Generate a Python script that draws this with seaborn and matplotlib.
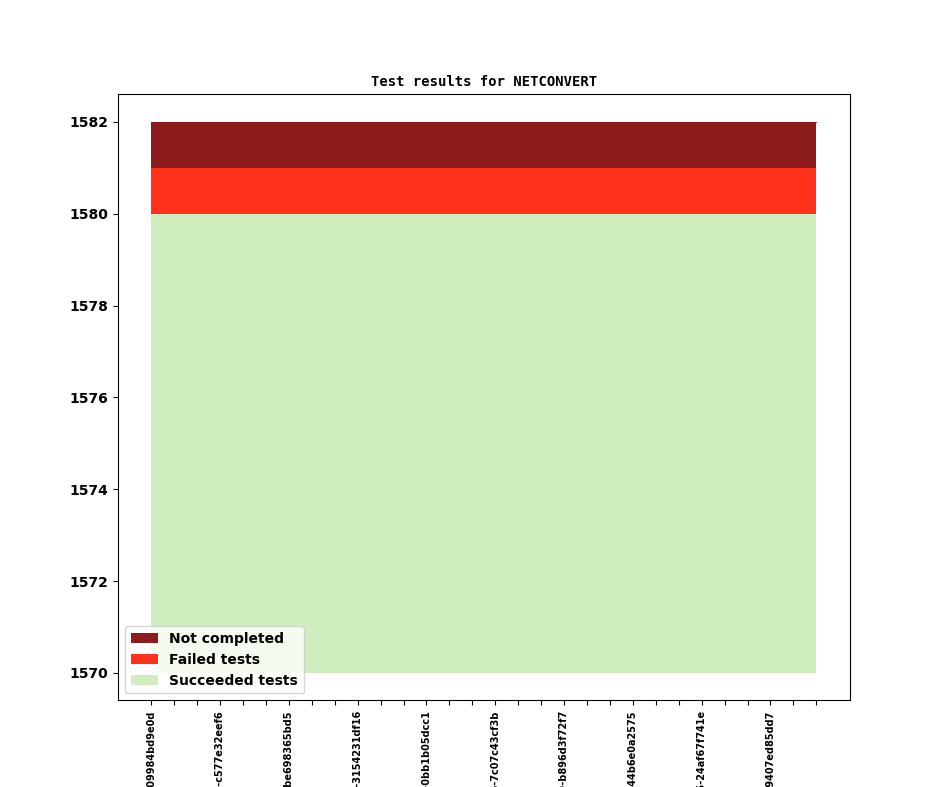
import matplotlib
matplotlib.use("Agg")
import matplotlib.pyplot as plt
import seaborn as sns
import numpy as np
import pandas as pd

# ---- data ----
n_builds = 30
succeeded = [1580] * n_builds
failed = [1] * n_builds
not_completed = [1] * n_builds
baseline = 1570
labelled_builds = [
    "v1_20_0+0101-09984bd9e0d",
    "v1_20_0+0104-c577e32eef6",
    "v1_20_0+0107-be698365bd5",
    "v1_20_0+0110-3154231df16",
    "v1_20_0+0113-0bb1b05dcc1",
    "v1_20_0+0116-7c07c43cf3b",
    "v1_20_0+0119-b896d3f72f7",
    "v1_20_0+0122-44b6e0a2575",
    "v1_20_0+0125-24af67f741e",
    "v1_20_0+0128-9407ed85dd7",
]
label_step = 3

colors = {"Not completed": "#8b1b1d", "Failed tests": "#ff311a", "Succeeded tests": "#cfedbe"}

df = pd.DataFrame({
    "build": np.arange(n_builds),
    "succeeded": succeeded,
    "failed": failed,
    "not_completed": not_completed,
})
df["base"] = baseline
df["top_succ"] = df["succeeded"]
df["top_fail"] = df["top_succ"] + df["failed"]
df["top_nc"] = df["top_fail"] + df["not_completed"]

plt.rcParams["font.weight"] = "bold"
fig, ax = plt.subplots(figsize=(9.44, 7.87), dpi=100)

ax.fill_between(df["build"], df["top_fail"], df["top_nc"], color=colors["Not completed"],
                label="Not completed", linewidth=0)
ax.fill_between(df["build"], df["top_succ"], df["top_fail"], color=colors["Failed tests"],
                label="Failed tests", linewidth=0)
ax.fill_between(df["build"], df["base"], df["top_succ"], color=colors["Succeeded tests"],
                label="Succeeded tests", linewidth=0)
sns.lineplot(x=df["build"], y=df["top_nc"], ax=ax, color=colors["Not completed"],
             linewidth=0.6, legend=False)

ticks = list(range(n_builds))
tick_labels = [""] * n_builds
for j, lab in enumerate(labelled_builds):
    tick_labels[j * label_step] = lab
ax.set_xticks(ticks)
ax.set_xticklabels(tick_labels, rotation=90, fontsize=7, fontweight="bold")
ax.set_yticks([1570, 1572, 1574, 1576, 1578, 1580, 1582])
for t in ax.get_yticklabels():
    t.set_fontweight("bold")
    t.set_fontsize(10)
ax.set_xlabel("")
ax.set_ylabel("")

ax.set_title("Test results for NETCONVERT", fontsize=10, family="DejaVu Sans Mono",
             fontweight="bold")
ax.legend(loc="lower left", prop={"weight": "bold", "size": 10})

fig.savefig("out.png", dpi=100)
